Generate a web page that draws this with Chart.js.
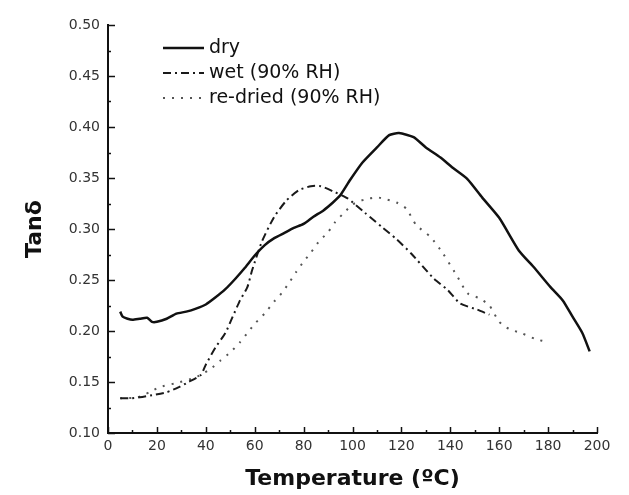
<!DOCTYPE html>
<html>
<head>
<meta charset="utf-8">
<script src="https://cdn.jsdelivr.net/npm/chart.js@4.4.1/dist/chart.umd.min.js"></script>
<style>
  body { margin: 0; background: #fff; }
  #wrap { width: 629px; height: 495px; }
</style>
</head>
<body>
<div id="wrap"><canvas id="chart" width="629" height="495"></canvas></div>
<script>
// values
const dryTemp = [5, 6, 8, 10, 13, 16, 18, 20, 24, 28, 32, 36, 40, 44, 48, 52, 56, 60, 64, 68, 72, 76, 80, 84, 88, 92, 95, 99, 104, 110, 115, 119, 125, 130, 136, 141, 147, 153, 160, 168, 174, 181, 186, 190, 194, 197]
const dryTan = [0.219, 0.214, 0.212, 0.211, 0.212, 0.213, 0.209, 0.209, 0.212, 0.217, 0.219, 0.222, 0.226, 0.233, 0.241, 0.251, 0.262, 0.274, 0.284, 0.291, 0.296, 0.301, 0.305, 0.312, 0.318, 0.326, 0.333, 0.348, 0.365, 0.380, 0.392, 0.394, 0.390, 0.380, 0.370, 0.360, 0.349, 0.331, 0.311, 0.279, 0.263, 0.243, 0.230, 0.214, 0.198, 0.180]

const wetTemp = [5, 9, 13, 18, 24, 29, 33, 38, 40, 44, 48, 51, 54, 57, 59, 63, 68, 73, 78, 83, 87, 92, 98, 105, 112, 118, 124, 133, 139, 144, 151, 156]
const wetTan = [0.134, 0.134, 0.135, 0.137, 0.140, 0.145, 0.150, 0.157, 0.167, 0.184, 0.198, 0.214, 0.230, 0.243, 0.260, 0.288, 0.312, 0.328, 0.338, 0.342, 0.342, 0.337, 0.330, 0.316, 0.302, 0.290, 0.276, 0.252, 0.240, 0.227, 0.221, 0.216]

const reTemp = [5, 12, 17, 21, 28, 34, 38, 42, 46, 50, 54, 57, 60, 64, 68, 71, 74, 77, 80, 83, 86, 90, 93, 97, 100, 105, 110, 114, 118, 122, 126, 132, 137, 143, 147, 152, 156, 160, 164, 169, 175, 180]
const reTan = [0.134, 0.135, 0.140, 0.145, 0.149, 0.153, 0.157, 0.163, 0.171, 0.179, 0.189, 0.198, 0.207, 0.217, 0.229, 0.237, 0.247, 0.258, 0.268, 0.277, 0.287, 0.297, 0.307, 0.317, 0.324, 0.329, 0.331, 0.329, 0.326, 0.320, 0.304, 0.292, 0.276, 0.253, 0.237, 0.232, 0.225, 0.209, 0.202, 0.198, 0.192, 0.189]

const seriesLabels = ['dry', 'wet (90% RH)', 're-dried (90% RH)']

const toPoints = (xs, ys) => xs.map((x, i) => ({ x: x, y: ys[i] }))

// inside ticks, major + minor, like the original plot
const insideTicks = {
  id: 'insideTicks',
  afterDraw(chart) {
    const { ctx, chartArea, scales } = chart
    ctx.save()
    ctx.strokeStyle = '#111'
    ctx.lineWidth = 1.5
    for (let v = 0; v <= 200; v += 10) {
      const px = Math.round(scales.x.getPixelForValue(v)) + 0.5
      const len = v % 20 === 0 ? 6 : 3
      ctx.beginPath()
      ctx.moveTo(px, chartArea.bottom)
      ctx.lineTo(px, chartArea.bottom - len)
      ctx.stroke()
    }
    for (let i = 0; i <= 16; i++) {
      const v = 0.1 + i * 0.025
      const py = Math.round(scales.y.getPixelForValue(v)) + 0.5
      const len = i % 2 === 0 ? 7 : 3
      ctx.beginPath()
      ctx.moveTo(chartArea.left, py)
      ctx.lineTo(chartArea.left + len, py)
      ctx.stroke()
    }
    ctx.restore()
  }
}

// legend sits inside the plot, top left
const innerLegend = {
  id: 'innerLegend',
  afterDraw(chart) {
    const { ctx } = chart
    ctx.save()
    ctx.font = '19px "DejaVu Sans"'
    ctx.textBaseline = 'middle'
    ctx.fillStyle = '#111'
    chart.data.datasets.forEach((ds, i) => {
      const y = 48 + i * 25
      ctx.strokeStyle = ds.borderColor
      ctx.lineWidth = ds.borderWidth
      ctx.setLineDash(ds.borderDash || [])
      ctx.beginPath()
      ctx.moveTo(163, y)
      ctx.lineTo(204, y)
      ctx.stroke()
      ctx.setLineDash([])
      ctx.fillText(ds.label, 209, y)
    })
    ctx.restore()
  }
}

const tickFont = { family: '"DejaVu Sans"', size: 14 }

new Chart(document.getElementById('chart'), {
  type: 'line',
  data: {
    datasets: [
      { label: seriesLabels[0], data: toPoints(dryTemp, dryTan), borderColor: '#111', borderWidth: 2.5, tension: 0.2 },
      { label: seriesLabels[1], data: toPoints(wetTemp, wetTan), borderColor: '#1a1a1a', borderWidth: 2, borderDash: [8, 4, 2, 4], tension: 0.2 },
      { label: seriesLabels[2], data: toPoints(reTemp, reTan), borderColor: '#555', borderWidth: 2, borderDash: [2, 7], tension: 0.2 }
    ]
  },
  options: {
    responsive: false,
    animation: false,
    layout: { padding: { top: 25, right: 32, left: 0, bottom: 0 } },
    elements: { point: { radius: 0 } },
    plugins: {
      legend: { display: false },
      tooltip: { enabled: false }
    },
    scales: {
      x: {
        type: 'linear',
        min: 0,
        max: 200,
        afterFit: s => { s.height = 62 },
        grid: { display: false, drawTicks: false },
        border: { display: true, color: '#111', width: 2 },
        ticks: { stepSize: 20, padding: 5, color: '#333', font: tickFont, maxRotation: 0 },
        title: {
          display: true,
          text: 'Temperature (ºC)',
          color: '#111',
          font: { family: '"DejaVu Sans"', size: 22, weight: 'bold' },
          padding: { top: 0, bottom: 3 }
        }
      },
      y: {
        min: 0.1,
        max: 0.5,
        afterFit: s => { s.width = 108 },
        grid: { display: false, drawTicks: false },
        border: { display: true, color: '#111', width: 2 },
        ticks: { stepSize: 0.05, padding: 8, color: '#333', font: tickFont, callback: v => v.toFixed(2) },
        title: {
          display: true,
          text: 'Tanδ',
          color: '#111',
          font: { family: '"DejaVu Sans"', size: 22, weight: 'bold' },
          padding: { top: 22, bottom: 0 }
        }
      }
    }
  },
  plugins: [insideTicks, innerLegend]
})
</script>
</body>
</html>
